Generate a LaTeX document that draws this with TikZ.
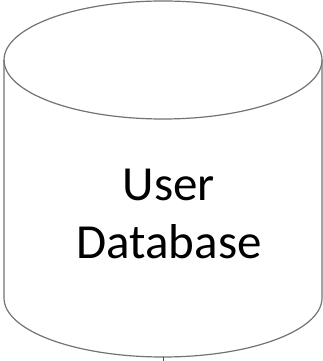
\documentclass[tikz,border=0pt]{standalone}
\usepackage{fontspec}
\setmainfont{Carlito}
\tikzset{dbline/.style={draw=black!55,line width=1.2pt}}
\begin{document}
\begin{tikzpicture}[x=1pt,y=1pt]
\useasboundingbox (0,0) rectangle (323,361);
\path[dbline,fill=white] (4,301) -- (4,63) arc[start angle=180,end angle=360,x radius=159,y radius=59] -- (322,301);
\draw[dbline] (163,301) ellipse[x radius=159,y radius=59];
\coordinate (bot) at (163,4);
\coordinate (stub) at (163,0);
\draw[green!50!black,line width=0.8pt] (bot) -- (stub);
\node[font=\fontsize{49}{58}\selectfont,align=center,text=black] (lbl) at (169,147) {User\\Database};
\end{tikzpicture}
\end{document}
